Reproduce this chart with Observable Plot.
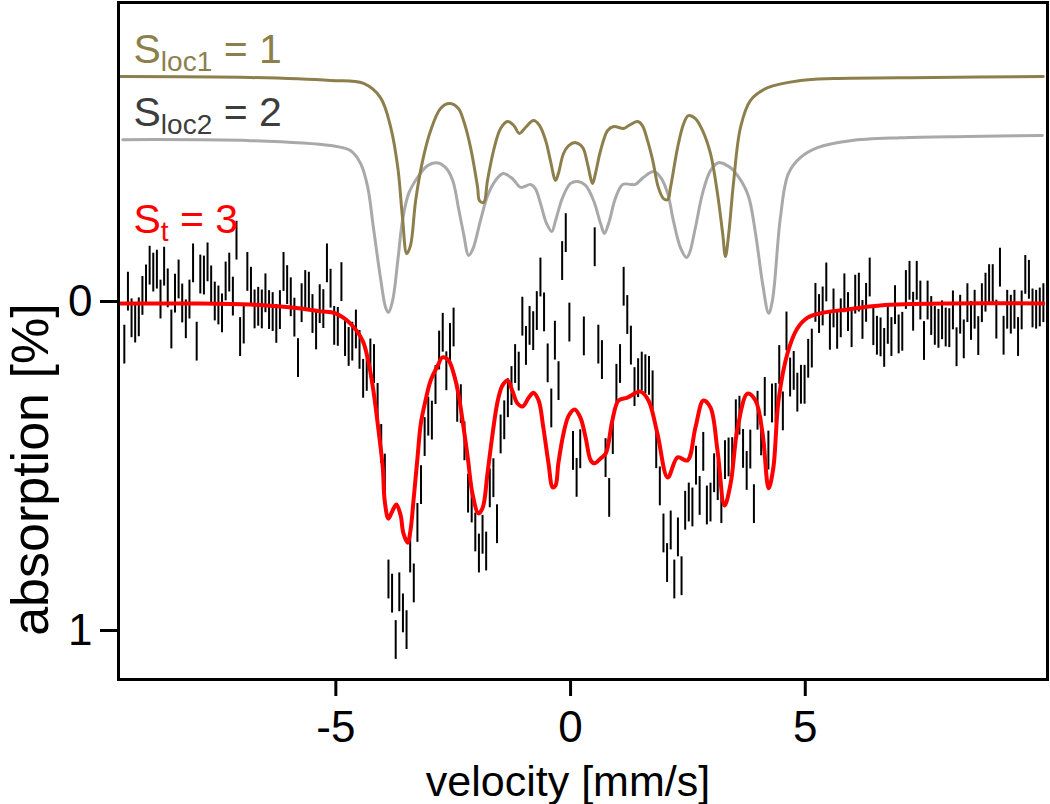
<!DOCTYPE html>
<html><head><meta charset="utf-8">
<script src="https://cdn.jsdelivr.net/npm/d3@7"></script>
<script src="https://cdn.jsdelivr.net/npm/@observablehq/plot@0.6"></script>
<style>
  html, body { margin: 0; padding: 0; background: #fff; }
</style>
</head>
<body>
<div id="chart"></div>
<script>
// ---- data ----
// channel grid of the measured spectrum
const vStart = -9.506, vStep = 0.07708;
const errHalf = 0.059;
// measured absorption per channel (null = no point shown)
const absorption = [
  0.131,-0.030,0.051,0.067,0.048,-0.017,-0.052,-0.109,-0.088,-0.097,-0.006,-0.106,-0.040,0.085,-0.024,-0.067,0.006,0.054,-0.006,-0.116,0.122,-0.082,-0.079,-0.119,-0.049,0.000,0.012,0.036,-0.061,-0.088,-0.015,
  -0.185,
  0.108,0.070,-0.090,-0.045,0.024,0.016,0.024,-0.025,0.026,0.032,0.068,0.026,-0.090,-0.050,-0.013,0.049,0.172,0.005,-0.035,-0.030,0.038,0.088,0.008,0.023,-0.116,-0.039,0.074,0.077,-0.059,0.108,0.138,0.122,
  0.085,0.147,0.235,0.214,0.173,0.190,0.308,0.433,0.523,0.845,0.888,1.029,0.884,0.948,0.999,0.766,0.857,0.673,0.558,0.412,0.350,0.362,0.254,0.149,0.095,0.212,0.126,0.079,0.308,0.312,0.425,0.584,0.614,0.702,
  0.766,0.709,0.760,0.568,0.537,0.677,0.404,0.361,0.294,0.257,0.190,0.213,0.046,0.135,0.074,0.090,0.029,-0.073,0.033,0.188,0.325,0.119,0.242,-0.123,-0.208,0.064,0.454,0.536,0.449,0.106,
  null,null,
  -0.165,0.131,0.178,0.476,0.597,0.406,0.250,0.190,-0.045,0.041,0.134,0.260,0.233,0.213,0.221,0.226,0.270,0.449,0.562,0.705,0.795,0.696,0.845,0.717,0.835,0.636,0.611,0.626,0.499,0.591,0.457,0.620,0.611,0.522,0.546,0.616,0.482,0.474,0.473,0.358,0.347,0.448,0.515,0.450,0.616,0.332,0.410,0.290,0.453,0.310,0.308,0.193,
  0.334,0.091,0.231,0.211,0.277,0.253,0.253,0.174,0.143,0.004,0.038,0.015,-0.058,0.089,0.021,0.086,0.051,-0.025,0.032,0.081,-0.021,-0.027,0.056,0.004,-0.073,0.075,0.104,0.109,0.141,0.071,0.108,0.011,0.100,0.092,-0.035,-0.063,0.031,-0.063,-0.003,0.120,-0.003,0.044,0.074,0.083,0.057,0.079,0.081,0.027,0.139,0.040,0.115,0.005,0.059,0.025,0.105,0.005,-0.027,-0.053,-0.053,0.055,-0.103,0.104,0.025,0.040,0.025,0.108,0.027,-0.081,-0.066,0.021,0.025,0.018,0.005
];
// total fit S_t
const fitV = [-9.58,-7.88,-6.82,-6.18,-5.75,-5.32,-5.01,-4.69,-4.43,-4.30,-4.20,-4.09,-4.00,-3.96,-3.88,-3.79,-3.71,-3.62,-3.56,-3.47,-3.41,-3.34,-3.26,-3.19,-3.09,-2.98,-2.83,-2.73,-2.60,-2.49,-2.39,-2.30,-2.19,-2.09,-1.96,-1.87,-1.77,-1.66,-1.55,-1.45,-1.34,-1.24,-1.13,-1.02,-0.89,-0.79,-0.68,-0.58,-0.47,-0.38,-0.32,-0.26,-0.15,-0.04,0.09,0.21,0.32,0.43,0.51,0.64,0.75,0.89,1.02,1.21,1.49,1.66,1.85,2.07,2.28,2.49,2.66,2.83,2.98,3.13,3.28,3.41,3.56,3.77,3.94,4.09,4.22,4.32,4.43,4.62,4.83,5.05,5.32,5.90,6.60,8.03,10.07];
const fitA = [0.006,0.006,0.009,0.015,0.021,0.030,0.036,0.067,0.119,0.188,0.271,0.392,0.505,0.605,0.660,0.635,0.617,0.650,0.705,0.733,0.696,0.596,0.474,0.371,0.301,0.240,0.195,0.170,0.179,0.219,0.280,0.362,0.474,0.584,0.644,0.626,0.523,0.401,0.301,0.255,0.240,0.271,0.310,0.319,0.292,0.277,0.301,0.383,0.492,0.565,0.559,0.492,0.401,0.347,0.328,0.353,0.413,0.483,0.492,0.477,0.462,0.362,0.301,0.292,0.274,0.301,0.401,0.535,0.474,0.483,0.383,0.301,0.322,0.453,0.620,0.553,0.383,0.280,0.301,0.401,0.568,0.505,0.301,0.158,0.082,0.049,0.036,0.024,0.012,0.006,0.006];
// sub-spectrum S_loc1 (shifted up)
const sloc1V = [-9.61,-6.82,-5.11,-4.41,-4.05,-3.83,-3.68,-3.58,-3.49,-3.41,-3.30,-3.15,-2.98,-2.77,-2.58,-2.39,-2.28,-2.13,-1.98,-1.94,-1.85,-1.77,-1.64,-1.49,-1.34,-1.21,-1.09,-0.96,-0.79,-0.66,-0.53,-0.43,-0.32,-0.26,-0.15,-0.04,0.11,0.26,0.36,0.47,0.53,0.64,0.79,0.92,1.13,1.24,1.43,1.53,1.64,1.75,1.87,1.98,2.07,2.13,2.28,2.41,2.51,2.66,2.81,2.98,3.13,3.24,3.30,3.37,3.47,3.62,3.83,4.20,4.90,5.60,7.73,10.07];
const sloc1A = [-0.684,-0.681,-0.672,-0.663,-0.620,-0.529,-0.407,-0.255,-0.146,-0.170,-0.307,-0.429,-0.520,-0.587,-0.602,-0.587,-0.550,-0.468,-0.347,-0.307,-0.301,-0.368,-0.459,-0.526,-0.547,-0.535,-0.511,-0.529,-0.550,-0.535,-0.489,-0.429,-0.368,-0.389,-0.450,-0.474,-0.483,-0.468,-0.419,-0.359,-0.389,-0.459,-0.520,-0.532,-0.526,-0.535,-0.547,-0.535,-0.489,-0.429,-0.347,-0.313,-0.310,-0.347,-0.468,-0.541,-0.565,-0.556,-0.520,-0.450,-0.328,-0.207,-0.137,-0.207,-0.359,-0.529,-0.611,-0.650,-0.672,-0.678,-0.681,-0.684];
// sub-spectrum S_loc2 (shifted up)
const sloc2V = [-9.54,-6.82,-5.11,-4.69,-4.47,-4.32,-4.20,-4.05,-3.94,-3.88,-3.79,-3.68,-3.58,-3.45,-3.26,-3.05,-2.85,-2.66,-2.51,-2.39,-2.28,-2.17,-2.07,-1.92,-1.75,-1.55,-1.43,-1.24,-1.06,-0.85,-0.75,-0.64,-0.51,-0.40,-0.32,-0.17,0.00,0.15,0.32,0.49,0.64,0.72,0.81,0.96,1.11,1.28,1.38,1.55,1.77,1.92,2.07,2.19,2.34,2.47,2.53,2.66,2.81,2.98,3.15,3.34,3.47,3.77,3.94,4.09,4.22,4.30,4.47,4.64,4.90,5.26,5.96,7.03,8.46,10.05];
const sloc2A = [-0.492,-0.489,-0.474,-0.459,-0.419,-0.347,-0.225,-0.073,0.018,0.033,-0.003,-0.125,-0.246,-0.328,-0.377,-0.413,-0.422,-0.407,-0.368,-0.286,-0.207,-0.140,-0.164,-0.246,-0.328,-0.377,-0.389,-0.374,-0.347,-0.356,-0.343,-0.298,-0.237,-0.213,-0.246,-0.316,-0.359,-0.365,-0.353,-0.307,-0.237,-0.207,-0.237,-0.316,-0.356,-0.356,-0.356,-0.377,-0.395,-0.377,-0.328,-0.246,-0.164,-0.134,-0.146,-0.225,-0.328,-0.398,-0.422,-0.413,-0.398,-0.328,-0.207,-0.055,0.036,-0.003,-0.255,-0.389,-0.438,-0.468,-0.489,-0.498,-0.502,-0.505];
// axes and labels
const xTicks = [-5, 0, 5];
const yTicks = [0, 1];
const xTitle = "velocity [mm/s]";
const yTitle = "absorption [%]";
const labelSub = ["loc1", "loc2", "t"];
const labelRest = [" = 1", " = 2", " = 3"];

// ---- chart ----
const olive = "#8c7f4c", grey = "#a9a9a9", red = "#ff0000";
const measured = absorption.map((a, i) => ({v: vStart + i * vStep, a})).filter(d => d.a !== null);
const pts = (V, A) => V.map((v, i) => ({v, a: A[i]}));
const lbl = (k, dy, fill) => Plot.text(["S" + labelSub[k] + labelRest[k]], {
  text: d => d, frameAnchor: "top-left", dx: 15, dy, textAnchor: "start", lineAnchor: "bottom",
  fontSize: 41, fill
});

const plot = Plot.plot({
  width: 1050, height: 804,
  marginLeft: 118, marginRight: 3, marginTop: 2, marginBottom: 125,
  style: {fontFamily: "'Liberation Sans', Arial, Helvetica, sans-serif", background: "#fff", color: "#000"},
  x: {domain: [-9.63, 10.16]},
  y: {domain: [1.149, -0.909]},
  marks: [
    Plot.ruleX(measured, {x: "v", y1: d => d.a - errHalf, y2: d => d.a + errHalf, stroke: "#000", strokeWidth: 2}),
    Plot.line(pts(sloc2V, sloc2A), {x: "v", y: "a", stroke: grey, strokeWidth: 3, curve: "catmull-rom"}),
    Plot.line(pts(sloc1V, sloc1A), {x: "v", y: "a", stroke: olive, strokeWidth: 3, curve: "catmull-rom"}),
    Plot.line(pts(fitV, fitA), {x: "v", y: "a", stroke: red, strokeWidth: 4, curve: "catmull-rom"}),
    Plot.frame({stroke: "#000", strokeWidth: 3}),
    Plot.axisX({ticks: xTicks, tickFormat: d => String(d), tickSize: 17, tickPadding: 14, fontSize: 44, strokeWidth: 3, label: null}),
    Plot.axisY({ticks: yTicks, tickFormat: d => String(d), tickSize: 18, tickPadding: 8, fontSize: 44, strokeWidth: 3, label: null}),
    Plot.text([xTitle], {text: d => d, frameAnchor: "bottom", dx: -15, dy: 116, lineAnchor: "bottom", fontSize: 43}),
    Plot.text([yTitle], {text: d => d, y: () => 0.511, frameAnchor: "left", dx: -87, rotate: -90, textAnchor: "middle", lineAnchor: "middle", fontSize: 52}),
    lbl(0, 60, olive),
    lbl(1, 123, "#3d3d3d"),
    lbl(2, 230, red)
  ]
});

// subscripts for the annotation labels
d3.select(plot).selectAll("text").each(function () {
  const t = this.textContent;
  const k = labelSub.findIndex((s, i) => t === "S" + s + labelRest[i]);
  if (k < 0) return;
  const el = d3.select(this);
  el.text(null);
  el.append("tspan").text("S");
  el.append("tspan").attr("dy", 8).attr("font-size", 28).text(labelSub[k]);
  el.append("tspan").attr("dy", -8).text(labelRest[k]);
});

document.getElementById("chart").appendChild(plot);
</script>
</body></html>
